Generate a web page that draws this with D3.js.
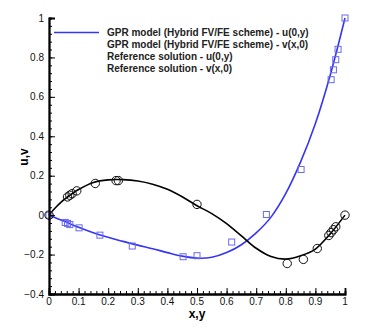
<!DOCTYPE html>
<html>
<head>
<meta charset="utf-8">
<script src="https://cdn.jsdelivr.net/npm/d3@7"></script>
<style>
  body { margin: 0; background: #fff; }
  svg { display: block; font-family: "Liberation Sans", Arial, sans-serif; }
</style>
</head>
<body>
<div id="chart"></div>
<script>
// GPR model curves
const gprUX = [0, 0.05, 0.1, 0.17, 0.25, 0.3, 0.35, 0.4, 0.45, 0.5, 0.55, 0.6, 0.65, 0.7, 0.75, 0.8, 0.85, 0.9, 0.95, 1.0];
const gprU  = [0, -0.03, -0.062, -0.10, -0.133, -0.152, -0.17, -0.19, -0.208, -0.218, -0.214, -0.19, -0.15, -0.09, -0.01, 0.11, 0.27, 0.465, 0.71, 1.0];

const gprVX = [0, 0.02, 0.04, 0.0625, 0.1, 0.15, 0.2, 0.25, 0.3, 0.35, 0.4, 0.45, 0.5, 0.55, 0.6, 0.65, 0.7, 0.75, 0.8, 0.85, 0.9, 0.95, 1.0];
const gprV  = [0, 0.035, 0.065, 0.092, 0.13, 0.166, 0.179, 0.18, 0.173, 0.157, 0.131, 0.093, 0.048, 0.008, -0.043, -0.105, -0.168, -0.21, -0.223, -0.206, -0.172, -0.095, 0];

// reference solution points
const refUX = [0, 0.0547, 0.0625, 0.0703, 0.1016, 0.1719, 0.2813, 0.4531, 0.5, 0.6172, 0.7344, 0.8516, 0.9531, 0.9609, 0.9688, 0.9766, 1.0];
const refU  = [0, -0.03717, -0.04192, -0.04775, -0.06434, -0.1015, -0.15662, -0.2109, -0.20581, -0.13641, 0.00332, 0.23151, 0.68717, 0.73722, 0.78871, 0.84123, 1.0];

const refVX = [0, 0.0625, 0.0703, 0.0781, 0.0938, 0.1563, 0.2266, 0.2344, 0.5, 0.8047, 0.8594, 0.9063, 0.9453, 0.9531, 0.9609, 0.9688, 1.0];
const refV  = [0, 0.09233, 0.10091, 0.1089, 0.12317, 0.16077, 0.17507, 0.17527, 0.05454, -0.24533, -0.22445, -0.16914, -0.10313, -0.08864, -0.07391, -0.05906, 0];

const legendLabels = [
  "GPR model (Hybrid FV/FE scheme) - u(0,y)",
  "GPR model (Hybrid FV/FE scheme) - v(x,0)",
  "Reference solution - u(0,y)",
  "Reference solution - v(x,0)"
];

const xTicks = [0, 0.1, 0.2, 0.3, 0.4, 0.5, 0.6, 0.7, 0.8, 0.9, 1];
const yTicks = [-0.4, -0.2, 0, 0.2, 0.4, 0.6, 0.8, 1];

const width = 374, height = 332;
const x = d3.scaleLinear().domain([0, 1]).range([49, 345]);
const y = d3.scaleLinear().domain([-0.4, 1]).range([294, 18]);

const svg = d3.select("#chart").append("svg")
  .attr("width", width)
  .attr("height", height);

// curves
const line = d3.line()
  .x(d => x(d[0]))
  .y(d => y(d[1]))
  .curve(d3.curveCatmullRom);

svg.append("path")
  .datum(gprUX.map((v, i) => [v, gprU[i]]))
  .attr("d", line)
  .attr("fill", "none")
  .attr("stroke", "#3535f5")
  .attr("stroke-width", 1.6);

svg.append("path")
  .datum(gprVX.map((v, i) => [v, gprV[i]]))
  .attr("d", line)
  .attr("fill", "none")
  .attr("stroke", "#000")
  .attr("stroke-width", 1.6);

// reference markers
svg.append("g").selectAll("rect")
  .data(refUX.map((v, i) => [v, refU[i]]))
  .join("rect")
  .attr("x", d => x(d[0]) - 3)
  .attr("y", d => y(d[1]) - 3)
  .attr("width", 6)
  .attr("height", 6)
  .attr("fill", "none")
  .attr("stroke", "#6a6af0")
  .attr("stroke-width", 1);

svg.append("g").selectAll("circle")
  .data(refVX.map((v, i) => [v, refV[i]]))
  .join("circle")
  .attr("cx", d => x(d[0]))
  .attr("cy", d => y(d[1]))
  .attr("r", 4.2)
  .attr("fill", "none")
  .attr("stroke", "#111")
  .attr("stroke-width", 1);

// axes
const xAxis = svg.append("g").attr("transform", `translate(0,${y(-0.4)})`);
xAxis.call(d3.axisBottom(x).tickValues(d3.range(0, 1.001, 0.02)).tickSize(-3).tickFormat(""));
xAxis.call(g => g.append("g").call(d3.axisBottom(x).tickValues(xTicks).tickSize(-6).tickFormat("")));
xAxis.selectAll(".domain").attr("stroke", "#000").attr("stroke-width", 1.8);
xAxis.selectAll("line").attr("stroke", "#000").attr("stroke-width", 1);

const yAxis = svg.append("g").attr("transform", `translate(${x(0)},0)`);
yAxis.call(d3.axisLeft(y).tickValues(d3.range(-0.4, 1.001, 0.04)).tickSize(-3).tickFormat(""));
yAxis.call(g => g.append("g").call(d3.axisLeft(y).tickValues(yTicks).tickSize(-6).tickFormat("")));
yAxis.selectAll(".domain").attr("stroke", "#000").attr("stroke-width", 1.8);
yAxis.selectAll("line").attr("stroke", "#000").attr("stroke-width", 1);

// tick labels
svg.append("g").selectAll("text")
  .data(xTicks)
  .join("text")
  .attr("x", d => x(d))
  .attr("y", 305)
  .attr("text-anchor", "middle")
  .attr("font-size", 10)
  .attr("fill", "#111")
  .text(d => d3.format("")(d));

svg.append("g").selectAll("text")
  .data(yTicks)
  .join("text")
  .attr("x", 44)
  .attr("y", d => y(d) + 3.5)
  .attr("text-anchor", "end")
  .attr("font-size", 10)
  .attr("fill", "#111")
  .text(d => d3.format("")(+d.toFixed(1)));

// axis titles
svg.append("text")
  .attr("x", 197)
  .attr("y", 318)
  .attr("text-anchor", "middle")
  .attr("font-size", 12)
  .attr("font-weight", "bold")
  .text("x,y");

svg.append("text")
  .attr("transform", "translate(28,157) rotate(-90)")
  .attr("text-anchor", "middle")
  .attr("font-size", 12)
  .attr("font-weight", "bold")
  .text("u,v");

// legend
const legend = svg.append("g");
legend.append("line")
  .attr("x1", 54).attr("x2", 99)
  .attr("y1", 32.5).attr("y2", 32.5)
  .attr("stroke", "#3535f5")
  .attr("stroke-width", 1.6);

legend.selectAll("text")
  .data(legendLabels)
  .join("text")
  .attr("x", 107)
  .attr("y", (d, i) => 36 + i * 12)
  .attr("font-size", 10)
  .attr("font-weight", "bold")
  .attr("fill", "#222")
  .text(d => d);
</script>
</body>
</html>
